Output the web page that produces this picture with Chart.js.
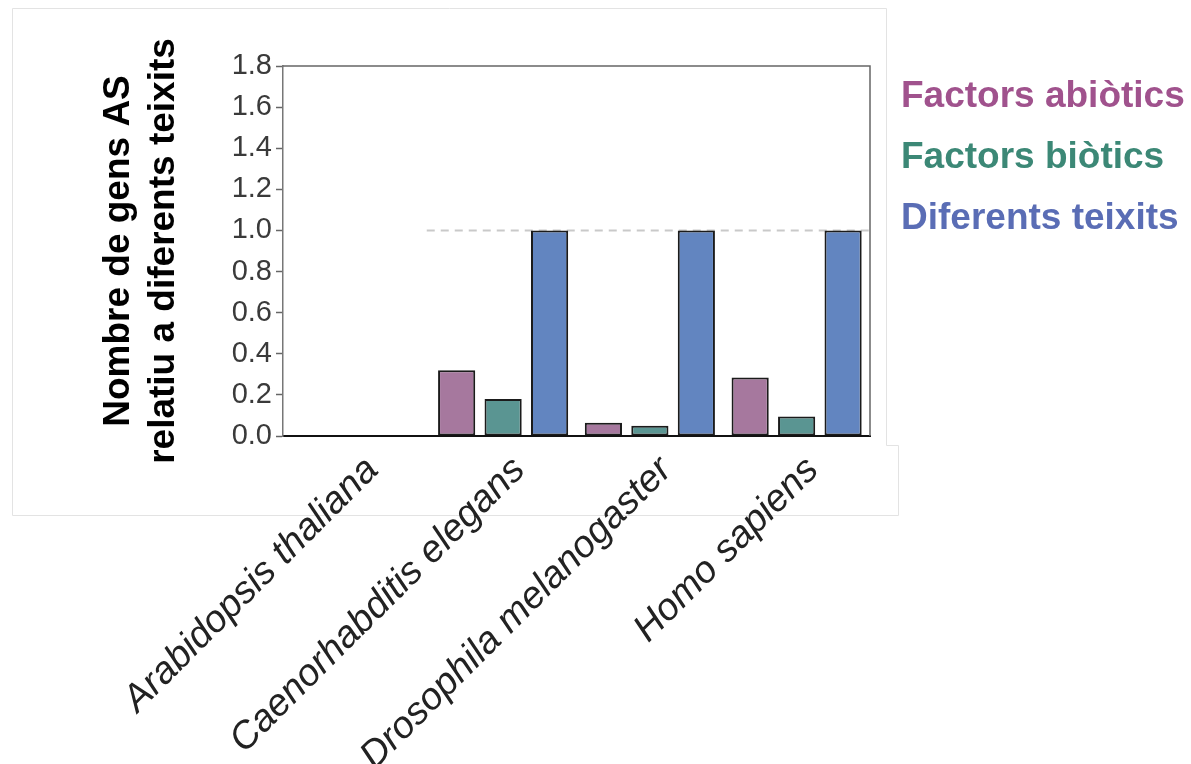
<!DOCTYPE html>
<html>
<head>
<meta charset="utf-8">
<script src="https://cdn.jsdelivr.net/npm/chart.js@4.4.1/dist/chart.umd.min.js"></script>
<style>
  html, body { margin: 0; padding: 0; background: #ffffff; }
  #wrap { width: 1191px; height: 764px; position: relative; }
</style>
</head>
<body>
<div id="wrap"><canvas id="c" width="1191" height="764"></canvas></div>
<script>
// ---- data ----
const categories = ['Arabidopsis thaliana', 'Caenorhabditis elegans', 'Drosophila melanogaster', 'Homo sapiens'];
const seriesLabels = ['Factors abiòtics', 'Factors biòtics', 'Diferents teixits'];
const abioticValues = [0, 0.32, 0.065, 0.285];
const bioticValues = [0, 0.18, 0.05, 0.095];
const tissueValues = [0, 1.0, 1.0, 1.0];
const yAxisTitle = ['Nombre de gens AS', 'relatiu a diferents teixits'];
const yMin = 0, yMax = 1.8, yStep = 0.2;
const referenceLevel = 1.0;

// ---- styles ----
const barColors = ['#a6789e', '#5a9592', '#6285c0'];
const legendColors = ['#a0528d', '#3c8876', '#5a6db5'];

const frameAndExtras = {
  id: 'frameAndExtras',
  beforeDraw(chart) {
    const ctx = chart.ctx;
    ctx.save();
    ctx.fillStyle = '#ffffff';
    ctx.fillRect(0, 0, chart.width, chart.height);
    ctx.strokeStyle = '#e3e3e3';
    ctx.lineWidth = 1;
    ctx.beginPath();
    ctx.moveTo(12.5, 515.5);
    ctx.lineTo(12.5, 8.5);
    ctx.lineTo(886.5, 8.5);
    ctx.lineTo(886.5, 445.5);
    ctx.lineTo(898.5, 445.5);
    ctx.lineTo(898.5, 515.5);
    ctx.closePath();
    ctx.stroke();
    ctx.restore();
  },
  beforeDatasetsDraw(chart) {
    const ctx = chart.ctx;
    const x = chart.scales.x, y = chart.scales.y;
    const yPix = y.getPixelForValue(referenceLevel);
    const xStart = (x.getPixelForValue(0) + x.getPixelForValue(1)) / 2 - 3;
    ctx.save();
    ctx.strokeStyle = '#c9c9c9';
    ctx.lineWidth = 2;
    ctx.setLineDash([8, 6]);
    ctx.beginPath();
    ctx.moveTo(xStart, yPix);
    ctx.lineTo(chart.chartArea.right, yPix);
    ctx.stroke();
    ctx.restore();
  },
  afterDraw(chart) {
    const ctx = chart.ctx;
    const a = chart.chartArea;
    ctx.save();
    ctx.strokeStyle = '#666666';
    ctx.lineWidth = 1.5;
    ctx.beginPath();
    ctx.moveTo(a.left, a.top);
    ctx.lineTo(a.right, a.top);
    ctx.lineTo(a.right, a.bottom);
    ctx.stroke();
    // legend text
    ctx.font = 'bold 37px "Liberation Sans", Arial, sans-serif';
    ctx.textAlign = 'left';
    ctx.textBaseline = 'alphabetic';
    chart.data.datasets.forEach((ds, i) => {
      ctx.fillStyle = legendColors[i];
      ctx.fillText(ds.label, 901, 107 + i * 61);
    });
    ctx.restore();
  }
};

new Chart(document.getElementById('c'), {
  type: 'bar',
  data: {
    labels: categories,
    datasets: [
      { label: seriesLabels[0], data: abioticValues, backgroundColor: barColors[0] },
      { label: seriesLabels[1], data: bioticValues, backgroundColor: barColors[1] },
      { label: seriesLabels[2], data: tissueValues, backgroundColor: barColors[2] }
    ]
  },
  options: {
    responsive: false,
    animation: false,
    devicePixelRatio: 1,
    layout: { padding: { left: 97, top: 66, right: 321, bottom: 0 } },
    datasets: {
      bar: {
        categoryPercentage: 0.95,
        barPercentage: 0.8,
        borderColor: '#1b1b1b',
        borderWidth: 2,
        borderSkipped: false
      }
    },
    plugins: {
      legend: { display: false },
      tooltip: { enabled: false },
      title: { display: false }
    },
    scales: {
      x: {
        offset: true,
        grid: { display: true, drawOnChartArea: false, drawTicks: false },
        border: { display: true, color: '#111111', width: 2 },
        ticks: {
          minRotation: 45,
          maxRotation: 45,
          autoSkip: false,
          padding: 12,
          labelOffset: 16,
          color: '#222222',
          font: { family: '"Liberation Sans", Arial, sans-serif', size: 38, style: 'italic', weight: 'normal', lineHeight: 1.2 }
        },
        afterFit(scale) { scale.height = 328; }
      },
      y: {
        min: yMin,
        max: yMax,
        grid: { display: true, drawOnChartArea: false, drawTicks: true, tickLength: 7, tickColor: '#666666', tickWidth: 1.5 },
        border: { display: true, color: '#777777', width: 1.5 },
        ticks: {
          stepSize: yStep,
          padding: 4,
          color: '#3a3a3a',
          font: { family: '"Liberation Sans", Arial, sans-serif', size: 29, weight: 'normal' },
          callback: (v) => Number(v).toFixed(1)
        },
        title: {
          display: true,
          text: yAxisTitle,
          color: '#000000',
          padding: 0,
          font: { family: '"Liberation Sans", Arial, sans-serif', size: 37, weight: 'bold', lineHeight: 1.2 }
        },
        afterFit(scale) { scale.width = 186; }
      }
    }
  },
  plugins: [frameAndExtras]
});
</script>
</body>
</html>
